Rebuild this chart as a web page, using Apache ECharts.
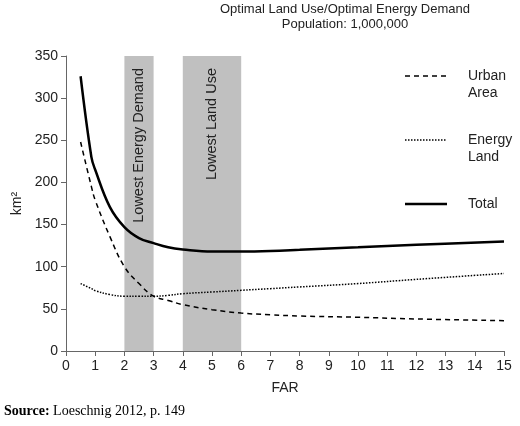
<!DOCTYPE html><html><head><meta charset="utf-8"><script src="https://cdn.jsdelivr.net/npm/echarts@6/dist/echarts.min.js"></script></head><body style="margin:0"><div id="c" style="width:520px;height:426px"></div><script>
const far=[0.5,0.87,1,1.5,2,2.5,3,3.5,4,5,6,7,8,10,12,15];
const total=[326,230,215,171,147,134,128,123,120.5,118,118,118.6,120,123,126,130];
const urban=[248,195,179,136,100,80,65,60,55,49,45,43,41.5,40,38,36];
const energy=[80,74,71.5,67,65,65,65,66,68,70,72,74,76,80,85,92];
const bands=[[2,3,'Lowest Energy Demand'],[4,6,'Lowest Land Use']];
const xTicks=[0,15,1], yTicks=[0,350,50];
const F='Liberation Sans, Arial, sans-serif';
const pts=a=>far.map((x,i)=>[x,a[i]]);
const c=echarts.init(document.getElementById('c'));
c.setOption({animation:false,
title:{text:'Optimal Land Use/Optimal Energy Demand',subtext:'Population: 1,000,000',left:340,textAlign:'center',top:-2,itemGap:2,
 textStyle:{fontFamily:F,fontSize:13,fontWeight:'normal',color:'#222'},subtextStyle:{fontFamily:F,fontSize:13,color:'#222'}},
grid:{left:66,right:16,top:56,bottom:75},
xAxis:{type:'value',min:xTicks[0],max:xTicks[1],interval:xTicks[2],name:'FAR',nameLocation:'middle',nameGap:30,
 nameTextStyle:{fontFamily:F,fontSize:14,color:'#222'},splitLine:{show:false},
 axisLine:{lineStyle:{color:'#666'}},axisTick:{lineStyle:{color:'#666'}},axisLabel:{fontFamily:F,fontSize:14,color:'#222'}},
yAxis:{type:'value',min:yTicks[0],max:yTicks[1],interval:yTicks[2],name:'km²',nameLocation:'middle',nameGap:42,
 nameTextStyle:{fontFamily:F,fontSize:14,color:'#222'},splitLine:{show:false},
 axisLine:{show:true,lineStyle:{color:'#666'}},axisTick:{show:true,lineStyle:{color:'#666'}},axisLabel:{fontFamily:F,fontSize:14,color:'#222'}},
series:[
 {type:'line',data:pts(total),smooth:0.4,symbol:'none',lineStyle:{color:'#000',width:2.5},z:3,
  markArea:{silent:true,itemStyle:{color:'#c0c0c0'},label:{show:true,position:'insideTop',rotate:90,align:'right',verticalAlign:'middle',distance:12,fontFamily:F,fontSize:14.5,color:'#222'},
   data:bands.map(b=>[{xAxis:b[0],yAxis:350,name:b[2]},{xAxis:b[1],yAxis:0}])}},
 {type:'line',data:pts(urban),smooth:0.4,symbol:'none',lineStyle:{color:'#000',width:1.5,type:[5,4]}},
 {type:'line',data:pts(energy),smooth:0.4,symbol:'none',lineStyle:{color:'#000',width:1.5,type:[1.5,1.5]}}
],
graphic:[
 {type:'line',shape:{x1:405,y1:76,x2:447,y2:76},style:{stroke:'#000',lineWidth:1.5,lineDash:[5,4]}},
 {type:'text',left:468,top:68,style:{text:'Urban\nArea',font:'14px '+F,fill:'#222',lineHeight:17}},
 {type:'line',shape:{x1:405,y1:140,x2:447,y2:140},style:{stroke:'#000',lineWidth:1.5,lineDash:[1.5,1.5]}},
 {type:'text',left:468,top:132,style:{text:'Energy\nLand',font:'14px '+F,fill:'#222',lineHeight:17}},
 {type:'line',shape:{x1:405,y1:204,x2:447,y2:204},style:{stroke:'#000',lineWidth:2.5}},
 {type:'text',left:468,top:197,style:{text:'Total',font:'14px '+F,fill:'#222'}},
 {type:'text',left:4,top:404,style:{rich:{b:{font:'bold 14px Liberation Serif, serif',fill:'#000'},n:{font:'14px Liberation Serif, serif',fill:'#000'}},text:'{b|Source:}{n| Loeschnig 2012, p. 149}'}}
]});
</script></body></html>
